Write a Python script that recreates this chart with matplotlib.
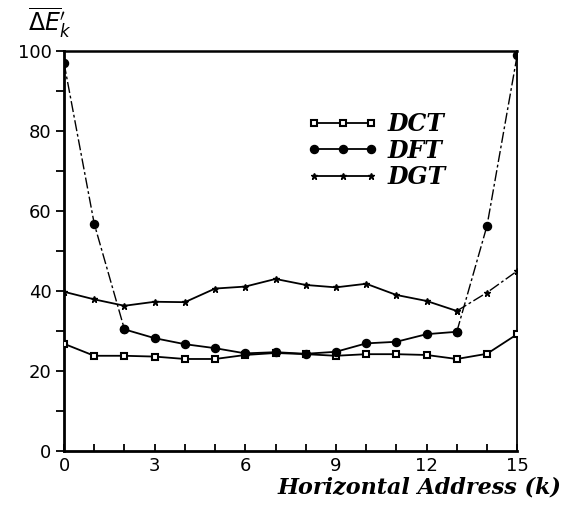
import matplotlib
matplotlib.use("Agg")
import matplotlib.pyplot as plt
import numpy as np
from matplotlib.lines import Line2D

k = list(range(16))
dct = [26.8, 23.8, 23.8, 23.6, 23.0, 23.0, 24.0, 24.5, 24.2, 23.8, 24.2, 24.2, 24.0, 23.0, 24.3, 29.2]
dft = [97.0, 56.8, 30.4, 28.2, 26.7, 25.7, 24.4, 24.7, 24.3, 24.8, 26.9, 27.3, 29.2, 29.8, 56.3, 99.0]
dgt = [39.8, 37.9, 36.3, 37.3, 37.2, 40.6, 41.1, 43.0, 41.5, 40.9, 41.8, 39.0, 37.5, 35.0, 39.6, 45.0]
xticks = [0, 3, 6, 9, 12, 15]
yticks = [0, 20, 40, 60, 80, 100]

fig = plt.figure(figsize=(5.63, 5.11), dpi=100)
ax = fig.add_axes([0.1137, 0.1174, 0.805, 0.783])

lw = 1.3
dct_kw = dict(marker='s', ms=4.5, mfc='white', mec='black', mew=1.5)
dft_kw = dict(marker='o', ms=5.8, mfc='black', mec='black')
dgt_kw = dict(marker='*', ms=5, mfc='black', mec='black')
dash = (0, (8, 2, 2, 2))

# DCT
ax.plot(k, dct, color='black', lw=lw, zorder=3, **dct_kw)
# DFT: solid middle, dash-dot steep ends
ax.plot(k[2:14], dft[2:14], color='black', lw=lw, zorder=4, **dft_kw)
ax.plot(k[:3], dft[:3], color='black', lw=1.0, ls=dash, zorder=4, **dft_kw)
ax.plot(k[13:], dft[13:], color='black', lw=1.0, ls=dash, zorder=4, **dft_kw)
# DGT
ax.plot(k[:14], dgt[:14], color='black', lw=lw, zorder=3, **dgt_kw)
ax.plot(k[13:], dgt[13:], color='black', lw=1.0, ls=dash, zorder=3, **dgt_kw)

h1 = Line2D([], [], color='black', lw=lw, **dct_kw)
h2 = Line2D([], [], color='black', lw=lw, **dft_kw)
h3 = Line2D([], [], color='black', lw=lw, **dgt_kw)
leg = ax.legend([h1, h2, h3], ['DCT', 'DFT', 'DGT'], loc='upper left',
                bbox_to_anchor=(0.49, 0.9), frameon=False, numpoints=3,
                handlelength=3.0, handletextpad=0.4, labelspacing=0.1,
                prop={'family': 'DejaVu Serif', 'weight': 'bold', 'style': 'italic', 'size': 17})

ax.set_xlim(0, 15)
ax.set_ylim(0, 100)
ax.set_xticks(xticks)
ax.set_xticks(k, minor=True)
ax.set_yticks(yticks)
ax.set_yticks([10, 30, 50, 70, 90], minor=True)
ax.tick_params(axis='x', which='both', direction='in', length=5, width=1.3, labelsize=13, pad=4,
               colors='black')
ax.tick_params(axis='y', which='both', direction='out', length=6, width=1.3, labelsize=13, pad=3,
               colors='black')

for s in ['left', 'bottom']:
    ax.spines[s].set_linewidth(2.0)
ax.spines['top'].set_linewidth(1.8)
ax.spines['right'].set_linewidth(1.3)

fig.text(0.998, 0.025, 'Horizontal Address (k)', ha='right', va='bottom',
         fontsize=16, family='DejaVu Serif', weight='bold', style='italic')
fig.text(0.05, 0.99, r'$\overline{\Delta E}{}^{\prime}_{k}$', ha='left', va='top',
         fontsize=17)

fig.savefig('out.png', dpi=100)
